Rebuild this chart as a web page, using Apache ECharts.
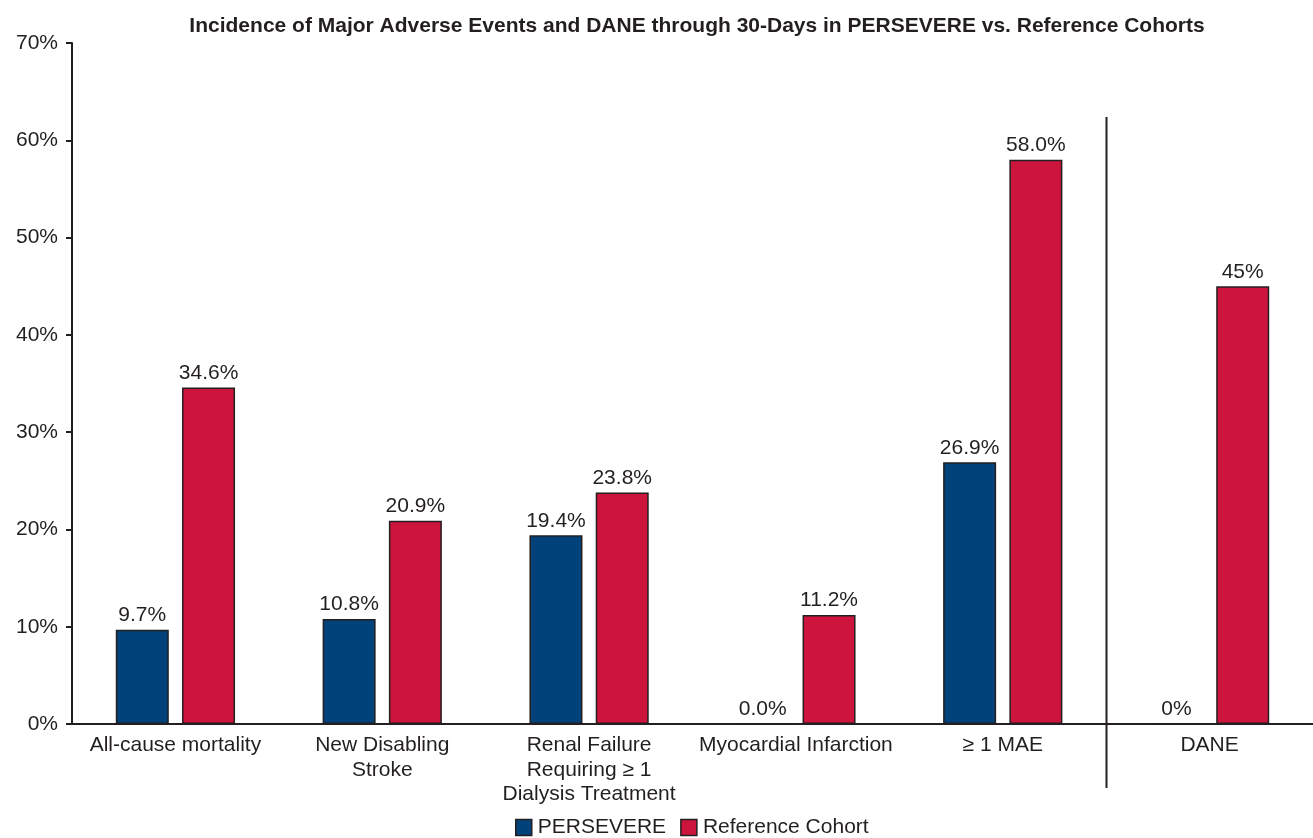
<!DOCTYPE html>
<html>
<head>
<meta charset="utf-8">
<script src="https://cdn.jsdelivr.net/npm/echarts@6/dist/echarts.min.js"></script>
<style>
  html, body { margin: 0; padding: 0; background: #fff; }
  #chart { width: 1313px; height: 838px; }
</style>
</head>
<body>
<div id="chart"></div>
<script>
// Outcome categories along the x axis
const categories = [
  'All-cause mortality',
  'New Disabling\nStroke',
  'Renal Failure\nRequiring \u2265 1\nDialysis Treatment',
  'Myocardial Infarction',
  '\u2265 1 MAE',
  'DANE'
];
// Incidence (%) per category
const persevere = [9.7, 10.8, 19.4, 0.0, 26.9, 0];
const reference = [34.6, 20.9, 23.8, 11.2, 58.0, 45];
// Decimal places shown in each category's value labels
const labelDecimals = [1, 1, 1, 1, 1, 0];
// Y axis ticks
const yTicks = [0, 10, 20, 30, 40, 50, 60, 70];

const FONT = '"Liberation Sans", Arial, Helvetica, sans-serif';
const TEXT = '#231f20';

const chart = echarts.init(document.getElementById('chart'), null, { renderer: 'canvas' });

function valueLabel(p) {
  return p.value.toFixed(labelDecimals[p.dataIndex]) + '%';
}

const barLabel = {
  show: true,
  position: 'top',
  distance: 4,
  fontFamily: FONT,
  fontSize: 21,
  color: TEXT,
  formatter: valueLabel
};

chart.setOption({
  animation: false,
  backgroundColor: '#fff',
  title: {
    text: 'Incidence of Major Adverse Events and DANE through 30-Days in PERSEVERE vs. Reference Cohorts',
    left: 692,
    textAlign: 'center',
    top: 11,
    textStyle: { fontFamily: FONT, fontSize: 21, fontWeight: 'bold', color: TEXT }
  },
  legend: {
    data: ['PERSEVERE', 'Reference Cohort'],
    left: 692,
    top: 812,
    align: 'left',
    orient: 'horizontal',
    icon: 'rect',
    itemWidth: 16,
    itemHeight: 16,
    itemGap: 14,
    itemStyle: { borderColor: '#231f20', borderWidth: 1.5 },
    textStyle: { fontFamily: FONT, fontSize: 21, color: TEXT, padding: [0, 0, 0, 1] }
  },
  grid: { left: 72, right: 0, top: 43, bottom: 114, containLabel: false },
  xAxis: {
    type: 'category',
    data: categories,
    axisLine: { show: true, lineStyle: { color: TEXT, width: 2 } },
    axisTick: { show: false },
    axisLabel: {
      interval: 0,
      margin: 9,
      fontFamily: FONT,
      fontSize: 21,
      lineHeight: 24.5,
      color: TEXT,
      align: 'center'
    }
  },
  yAxis: {
    type: 'value',
    min: yTicks[0],
    max: yTicks[yTicks.length - 1],
    interval: 10,
    axisLine: { show: true, lineStyle: { color: TEXT, width: 2 } },
    axisTick: { show: true, length: 6, lineStyle: { color: TEXT, width: 2 } },
    splitLine: { show: false },
    axisLabel: {
      margin: 14,
      fontFamily: FONT,
      fontSize: 21,
      color: TEXT,
      formatter: v => v + '%'
    }
  },
  series: [
    {
      name: 'PERSEVERE',
      type: 'bar',
      data: persevere,
      barWidth: 53,
      barGap: '25%',
      itemStyle: { color: '#02427a', borderColor: '#231f20', borderWidth: 1.5 },
      label: barLabel
    },
    {
      name: 'Reference Cohort',
      type: 'bar',
      data: reference,
      barWidth: 53,
      barGap: '25%',
      itemStyle: { color: '#cc143c', borderColor: '#231f20', borderWidth: 1.5 },
      label: barLabel
    }
  ]
});

// Centre the legend under the plot once its width is known
(function centreLegend() {
  const legendView = chart.getViewOfComponentModel(chart.getModel().getComponent('legend'));
  if (legendView && legendView.group) {
    const rect = legendView.group.getBoundingRect();
    chart.setOption({ legend: { left: Math.round(692 - rect.width / 2) } });
  }
})();

// Vertical divider separating DANE from the adverse-event categories
function drawDivider() {
  const a = chart.convertToPixel({ xAxisIndex: 0 }, 4);
  const b = chart.convertToPixel({ xAxisIndex: 0 }, 5);
  const x = Math.round((a + b) / 2) + 0.5;
  const yTop = chart.convertToPixel({ yAxisIndex: 0 }, 62.4);
  chart.setOption({
    graphic: [{
      type: 'line',
      shape: { x1: x, y1: yTop, x2: x, y2: 788 },
      style: { stroke: TEXT, lineWidth: 2 },
      silent: true,
      z: 10
    }]
  });
}
drawDivider();
</script>
</body>
</html>
